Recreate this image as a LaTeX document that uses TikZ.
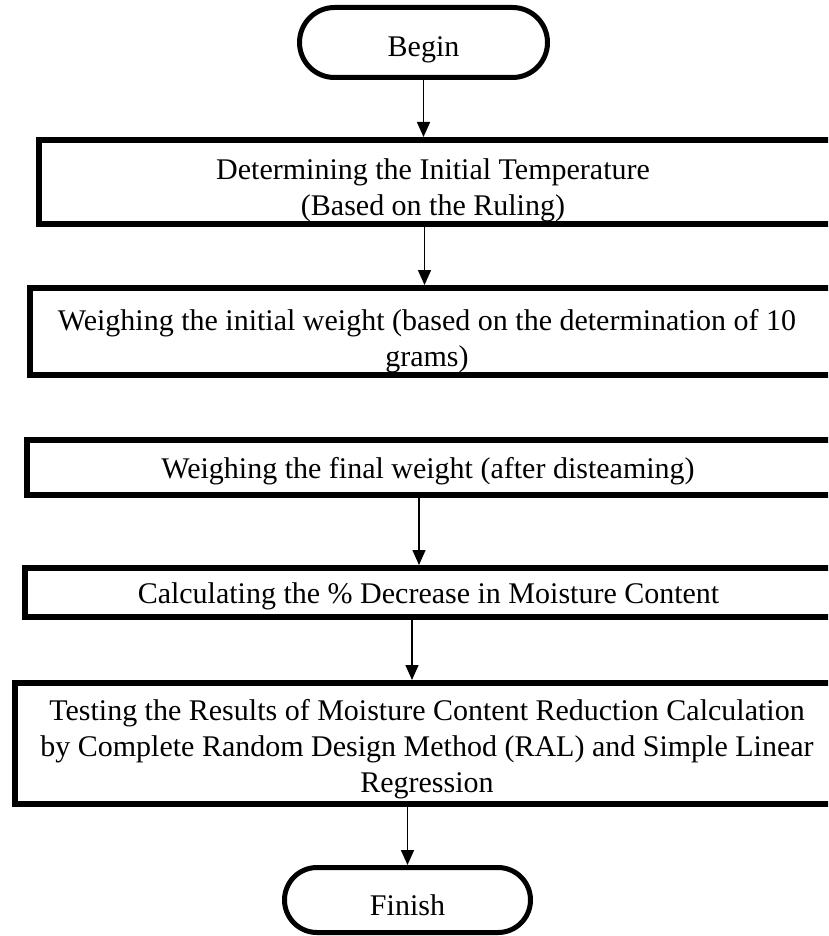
\documentclass[tikz,border=0pt]{standalone}
\usepackage{fontspec}
\setmainfont{Liberation Serif}
\usetikzlibrary{arrows.meta,shapes.misc,calc}
\tikzset{
  procbox/.style={draw=black, line width=6pt, inner sep=0pt, fill=white},
  termbox/.style={rounded rectangle, draw=black, line width=5pt, inner sep=0pt, fill=white},
  lbl/.style={align=center, inner sep=0pt, font=\fontsize{30}{36}\selectfont},
  arr/.style={line width=1.5pt, -{Triangle[width=13pt,length=15pt]}},
}
\begin{document}
\begin{tikzpicture}[x=1pt,y=-1pt]
\useasboundingbox (0,0) rectangle (828,936);
\clip (0,0) rectangle (828,936);
\fill[white] (0,0) rectangle (828,936);
% terminals
\node[termbox, minimum width=248pt, minimum height=70pt] (begin) at (423.5,42.5) {};
\node[lbl] (tbegin) at (423.5,50) {Begin};
\node[termbox, minimum width=246pt, minimum height=65pt] (finish) at (407.5,900) {};
\node[lbl] (tfinish) at (407.5,905) {Finish};
% process boxes
\node[procbox, minimum width=831pt, minimum height=84pt] (b1) at (454.5,182) {};
\node[lbl] (t1) at (433,190) {Determining the Initial Temperature\\(Based on the Ruling)};
\node[procbox, minimum width=840pt, minimum height=87pt] (b2) at (450,331.5) {};
\node[lbl] (t2) at (427,341) {Weighing the initial weight (based on the determination of 10\\grams)};
\node[procbox, minimum width=843pt, minimum height=55pt] (b3) at (448.5,467.5) {};
\node[lbl] (t3) at (428,471) {Weighing the final weight (after disteaming)};
\node[procbox, minimum width=845pt, minimum height=49pt] (b4) at (447.5,592.5) {};
\node[lbl] (t4) at (428.5,596) {Calculating the \% Decrease in Moisture Content};
\node[procbox, minimum width=855pt, minimum height=121pt] (b5) at (442.5,743.5) {};
\node[lbl] (t5) at (427,749) {Testing the Results of Moisture Content Reduction Calculation\\by Complete Random Design Method (RAL) and Simple Linear\\Regression};
% connectors
\coordinate (c2) at ([xshift=-30pt]b1.south);
\coordinate (c3) at ([xshift=-29.5pt]b3.south);
\coordinate (c4) at ([xshift=-35.5pt]b4.south);
\draw[arr] (begin.south) -- (begin.south |- b1.north);
\draw[arr] (c2) -- (c2 |- b2.north);
\draw[arr] (c3) -- (c3 |- b4.north);
\draw[arr] (c4) -- (c4 |- b5.north);
\draw[arr] (b5.south -| finish.north) -- (finish.north);
\end{tikzpicture}
\end{document}
